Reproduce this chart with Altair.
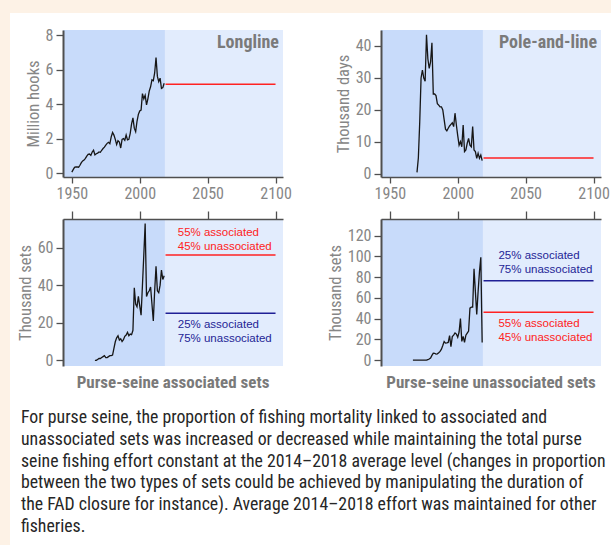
import altair as alt
import pandas as pd

# ---------------- data ----------------
YEAR_MIN, YEAR_MAX = 1943.5, 2105.5
HIST_END = 2018.5
x_ticks = [1950, 2000, 2050, 2100]

ll_years = list(range(1950, 2019))
ll_values = [0.05, 0.2, 0.33, 0.35, 0.36, 0.34, 0.45, 0.6, 0.7, 0.75,
             0.85, 0.98, 1.08, 1.1, 1.02, 1.22, 1.32, 1.05, 1.12, 1.15,
             1.22, 1.2, 1.32, 1.42, 1.5, 1.62, 1.72, 1.78, 1.7, 2.1,
             2.35, 2.2, 1.95, 1.65, 1.88, 1.8, 1.45, 1.95, 2.0, 1.9,
             2.2, 1.92, 1.95, 2.3, 2.85, 3.2, 2.6, 2.4, 3.0, 3.4,
             3.6, 3.65, 4.6, 4.3, 4.5, 3.95, 4.3, 4.75, 5.0, 5.4,
             5.35, 5.8, 6.7, 5.6, 5.3, 5.5, 4.9, 4.95, 5.2]

pl_years = list(range(1970, 2019))
pl_values = [0.5, 5, 16, 30, 32.5, 30, 29, 43.5, 36, 33,
             35, 41, 25, 25, 24.5, 22, 21.5, 21, 21, 20,
             17, 14, 13.5, 14.3, 15, 15.5, 16, 14.8, 19, 15.3,
             12, 9, 10.1, 8.5, 15.3, 7, 7.5, 9.6, 11.1, 9,
             8.5, 14.8, 7.5, 7, 4.9, 6.5, 4.9, 5.9, 4.2]

ps_years = list(range(1967, 2019))
psa_values = [0, 0, 0.5, 1, 1, 1.5, 2, 2.5, 1.5, 1.5,
              2, 2.5, 2.5, 2.8, 6.4, 9.9, 12, 13.1, 10.8, 11.5,
              10, 11, 12.8, 13.5, 14.9, 13.1, 14, 13.7, 16, 38.6,
              30, 28.5, 34, 29, 24, 40, 56, 72.8, 34, 36,
              37, 39, 30, 21, 37, 50, 37, 36, 40, 48,
              43, 45]
psu_values = [0, 0, 0, 0, 0, 0, 0, 0, 0, 0,
              0, 0.5, 1, 2, 4.5, 6.7, 6.5, 5.8, 6, 7,
              8.3, 10.5, 14, 17.9, 16.3, 16.5, 17, 23.6, 13, 22.6,
              24, 26.1, 25, 22, 27, 40, 18, 22.7, 17, 24,
              26, 28, 50, 51, 51, 88, 66, 44, 66, 85,
              99, 17]

proj_start, proj_end = 2019, 2100
ll_proj = [5.15]
pl_proj = [5.0]
psa_proj = [56, 25]          # red scenario, blue scenario
psu_proj = [46, 76.5]        # red scenario, blue scenario

scenario_red = "55% associated\n45% unassociated"
scenario_blue = "25% associated\n75% unassociated"
psa_label_pos = [(2028, 66.1), (2028, 17.0)]   # (year, value) red, blue
psu_label_pos = [(2030, 32.1), (2030, 97.4)]   # red, blue

caption_lines = [
    "For purse seine, the proportion of fishing mortality linked to associated and",
    "unassociated sets was increased or decreased while maintaining the total purse",
    "seine fishing effort constant at the 2014\u20132018 average level (changes in proportion",
    "between the two types of sets could be achieved by manipulating the duration of",
    "the FAD closure for instance). Average 2014\u20132018 effort was maintained for other",
    "fisheries.",
]

# ---------------- style ----------------
FONT_C = "Roboto Condensed, DejaVu Sans Condensed, Lato, sans-serif"
FONT_A = "Liberation Sans"
GRAY = "#868686"
TITLE_GRAY = "#7a7a7a"
AXIS_C = "#4f4f4f"
DARK_BG = "#C8DBFA"
LIGHT_BG = "#E2ECFD"
CREAM = "#FDF2E6"
RED = "#FF2222"
BLUE = "#1F1F96"
W, H = 220, 147

xs = alt.Scale(domain=[YEAR_MIN, YEAR_MAX], nice=False, zero=False)


def x_axis(top):
    if top:
        return alt.Axis(orient="top", values=x_ticks, labels=False, title=None, grid=False,
                        domainColor=AXIS_C, domainWidth=1.5, tickColor=AXIS_C,
                        tickWidth=1.3, tickSize=8, zindex=1)
    return alt.Axis(orient="bottom", values=x_ticks, format="d", title=None, grid=False,
                    domainColor=AXIS_C, domainWidth=1.5, tickColor=AXIS_C,
                    tickWidth=1.3, tickSize=6, labelFont=FONT_C, labelFontSize=16,
                    labelColor=GRAY, labelPadding=2, labelFlush=False,
                    labelOverlap=False, zindex=1)


def y_axis(vals, title):
    return alt.Axis(values=vals, title=title, grid=False, domainColor=AXIS_C, domainWidth=2,
                    tickColor=AXIS_C, tickWidth=1.3, tickSize=7, labelFont=FONT_C,
                    labelFontSize=16, labelColor=GRAY, labelPadding=3, labelOverlap=False,
                    labelBound=False, titleFont=FONT_C, titleFontSize=16.5, titleColor=GRAY,
                    titleFontWeight="normal", titlePadding=4, zindex=1)


def panel(years, values, ydom, yvals, ytitle, top_axis, proj_vals, proj_cols,
          label=None, bottom_title=None, ann=None, extra=None):
    ys = alt.Scale(domain=ydom, nice=False, zero=False)
    X = alt.X("year:Q", scale=xs, axis=x_axis(top_axis))
    Y = alt.Y("value:Q", scale=ys, axis=y_axis(yvals, ytitle))
    layers = []
    if extra:
        layers += extra
    shade = alt.Chart(pd.DataFrame({"year": [YEAR_MIN], "year_end": [HIST_END]})).mark_rect(
        color=DARK_BG).encode(x=X, x2="year_end:Q", y=alt.value(0), y2=alt.value(H))
    layers.append(shade)
    line = alt.Chart(pd.DataFrame({"year": years, "value": values})).mark_line(
        color="#161616", strokeWidth=1.3).encode(x=X, y=Y)
    layers.append(line)
    pdf = pd.DataFrame({"year": [proj_start] * len(proj_vals),
                        "year_end": [proj_end] * len(proj_vals),
                        "value": proj_vals, "col": proj_cols})
    rule = alt.Chart(pdf).mark_rule(strokeWidth=1.5).encode(
        x=X, x2="year_end:Q", y=Y, color=alt.Color("col:N", scale=None))
    layers.append(rule)
    if ann is not None:
        adf = pd.DataFrame(ann)
        layers.append(alt.Chart(adf).mark_text(
            align="left", baseline="alphabetic", font=FONT_A, fontSize=11.5,
            lineBreak="\n", lineHeight=14).encode(
            x=X, y=Y, text="label:N", color=alt.Color("col:N", scale=None)))
    one = pd.DataFrame({"k": [0]})
    if label:
        layers.append(alt.Chart(one).mark_text(
            text=label, align="right", baseline="alphabetic", font=FONT_C,
            fontSize=18, fontWeight="bold", color=TITLE_GRAY).encode(
            x=alt.value(W - 4), y=alt.value(18.3)))
    if bottom_title:
        layers.append(alt.Chart(one).mark_text(
            text=bottom_title, align="center", baseline="alphabetic", font=FONT_C,
            fontSize=17, fontWeight="bold", color=TITLE_GRAY).encode(
            x=alt.value(W / 2), y=alt.value(H + 22)))
    return alt.layer(*layers).properties(width=W, height=H)


one = pd.DataFrame({"k": [0]})
frame = [
    alt.Chart(one).mark_rect(color=CREAM).encode(
        x=alt.value(-63), x2=alt.value(548), y=alt.value(-30), y2=alt.value(-17)),
    alt.Chart(one).mark_rect(color=CREAM).encode(
        x=alt.value(-63), x2=alt.value(-53), y=alt.value(-30), y2=alt.value(515)),
]
caption = [
    alt.Chart(one).mark_text(
        text=caption_lines, align="left", baseline="alphabetic", font=FONT_C,
        fontSize=17.8, lineHeight=21.8, color="#262626").encode(
        x=alt.value(-42), y=alt.value(204)),
]

p1 = panel(ll_years, ll_values, [-0.23, 8.29], [0, 2, 4, 6, 8], "Million hooks", False,
           ll_proj, [RED], label="Longline", extra=frame)
p2 = panel(pl_years, pl_values, [-0.94, 45], [0, 10, 20, 30, 40], "Thousand days", False,
           pl_proj, [RED], label="Pole-and-line")
p3 = panel(ps_years, psa_values, [-3, 75.2], [0, 20, 40, 60], "Thousand sets", True,
           psa_proj, [RED, BLUE], bottom_title="Purse-seine associated sets",
           ann={"year": [p[0] for p in psa_label_pos], "value": [p[1] for p in psa_label_pos],
                "label": [scenario_red, scenario_blue], "col": [RED, BLUE]},
           extra=caption)
p4 = panel(ps_years, psu_values, [-5.75, 136], [0, 20, 40, 60, 80, 100, 120], "Thousand sets", True,
           psu_proj, [RED, BLUE], bottom_title="Purse-seine unassociated sets",
           ann={"year": [p[0] for p in psu_label_pos], "value": [p[1] for p in psu_label_pos],
                "label": [scenario_red, scenario_blue], "col": [RED, BLUE]})

chart = alt.concat(p1, p2, p3, p4, columns=2, spacing={"row": 42, "column": 98},
                   bounds="flush").properties(
    background="white", padding=0
).configure_view(fill=LIGHT_BG, strokeWidth=0)

chart.save("out.html", embed_options={"renderer": "svg", "actions": False})
